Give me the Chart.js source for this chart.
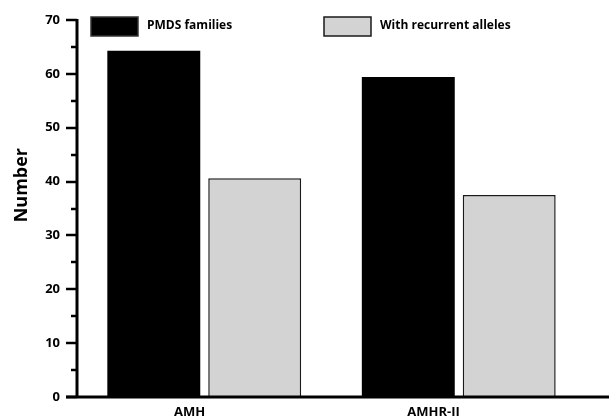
<!DOCTYPE html>
<html>
<head>
<meta charset="utf-8">
<script src="https://cdn.jsdelivr.net/npm/chart.js@4.4.1/dist/chart.umd.min.js"></script>
<style>
  html, body { margin: 0; padding: 0; background: #fff; }
</style>
</head>
<body>
<canvas id="barChart" width="609" height="420"></canvas>
<script>
// data
const genes = ['AMH', 'AMHR-II'];
const pmdsFamilies = [64.3, 59.4];
const recurrentAlleles = [40.6, 37.5];
const yMajorTicks = [0, 10, 20, 30, 40, 50, 60, 70];
const yMinorTicks = [5, 15, 25, 35, 45, 55, 65];

const FONT = "'Open Sans', 'Liberation Sans', sans-serif";

// heavy axis lines + tick marks drawn on top of the bars, and the legend
const axisExtras = {
    id: 'axisExtras',
    afterDatasetsDraw(chart) {
        const ctx = chart.ctx;
        const area = chart.chartArea;
        const y = chart.scales.y;
        const x0 = area.left;
        const yBase = Math.round(y.getPixelForValue(0));
        const yTop = Math.round(y.getPixelForValue(70));
        ctx.save();
        ctx.strokeStyle = '#000';
        ctx.lineCap = 'butt';

        // y axis
        ctx.lineWidth = 3;
        ctx.beginPath();
        ctx.moveTo(x0, yTop - 1);
        ctx.lineTo(x0, yBase);
        ctx.stroke();
        // x axis, runs to the right edge
        ctx.beginPath();
        ctx.moveTo(x0 - 11, yBase);
        ctx.lineTo(chart.width, yBase);
        ctx.stroke();

        ctx.lineWidth = 2.5;
        yMajorTicks.forEach(v => {
            const py = Math.round(y.getPixelForValue(v));
            ctx.beginPath();
            ctx.moveTo(x0 - 11, py);
            ctx.lineTo(x0, py);
            ctx.stroke();
        });
        yMinorTicks.forEach(v => {
            const py = Math.round(y.getPixelForValue(v));
            ctx.beginPath();
            ctx.moveTo(x0 - 6, py);
            ctx.lineTo(x0, py);
            ctx.stroke();
        });

        // legend
        const spots = [91, 324];
        ctx.font = 'bold 12px ' + FONT;
        ctx.textBaseline = 'middle';
        chart.data.datasets.forEach((ds, i) => {
            const x = spots[i];
            ctx.fillStyle = ds.backgroundColor;
            ctx.fillRect(x, 17, 47, 19);
            ctx.lineWidth = 1.5;
            ctx.strokeStyle = i === 0 ? '#333' : '#1a1a1a';
            ctx.strokeRect(x, 17, 47, 19);
            ctx.fillStyle = '#000';
            ctx.fillText(ds.label, x + 56, 26);
        });
        ctx.restore();
    }
};

const ctx = document.getElementById('barChart').getContext('2d');
new Chart(ctx, {
    type: 'bar',
    data: {
        labels: genes,
        datasets: [{
            label: 'PMDS families',
            data: pmdsFamilies,
            backgroundColor: '#000000',
            borderWidth: 0,
            barPercentage: 0.921,
            categoryPercentage: 0.793
        }, {
            label: 'With recurrent alleles',
            data: recurrentAlleles,
            backgroundColor: '#d3d3d3',
            borderColor: '#1a1a1a',
            borderWidth: 1.5,
            barPercentage: 0.921,
            categoryPercentage: 0.793
        }]
    },
    options: {
        responsive: false,
        animation: false,
        layout: { padding: { top: 20, right: 23, left: 0, bottom: 0 } },
        plugins: {
            legend: { display: false },
            tooltip: { enabled: false }
        },
        scales: {
            x: {
                grid: { display: false, drawTicks: false },
                border: { display: false },
                ticks: {
                    align: 'end',
                    labelOffset: 1,
                    padding: 7,
                    color: '#000',
                    font: { family: FONT, size: 13, weight: 'bold' }
                },
                afterFit(scale) { scale.height = 23; }
            },
            y: {
                min: 0,
                max: 70,
                afterBuildTicks(scale) {
                    scale.ticks = yMajorTicks.map(v => ({ value: v }));
                },
                // tick space kept by the library, marks drawn by the plugin
                grid: {
                    drawOnChartArea: false,
                    tickLength: 11,
                    color: 'rgba(0,0,0,0)'
                },
                border: { display: false },
                ticks: {
                    padding: 6,
                    color: '#000',
                    font: { family: FONT, size: 13, weight: 'bold' }
                },
                title: {
                    display: true,
                    text: '          Number',
                    color: '#000',
                    padding: { top: 11, bottom: 0 },
                    font: { family: FONT, size: 18, weight: 'bold' }
                },
                afterFit(scale) { scale.width = 77; }
            }
        }
    },
    plugins: [axisExtras]
});
</script>
</body>
</html>
